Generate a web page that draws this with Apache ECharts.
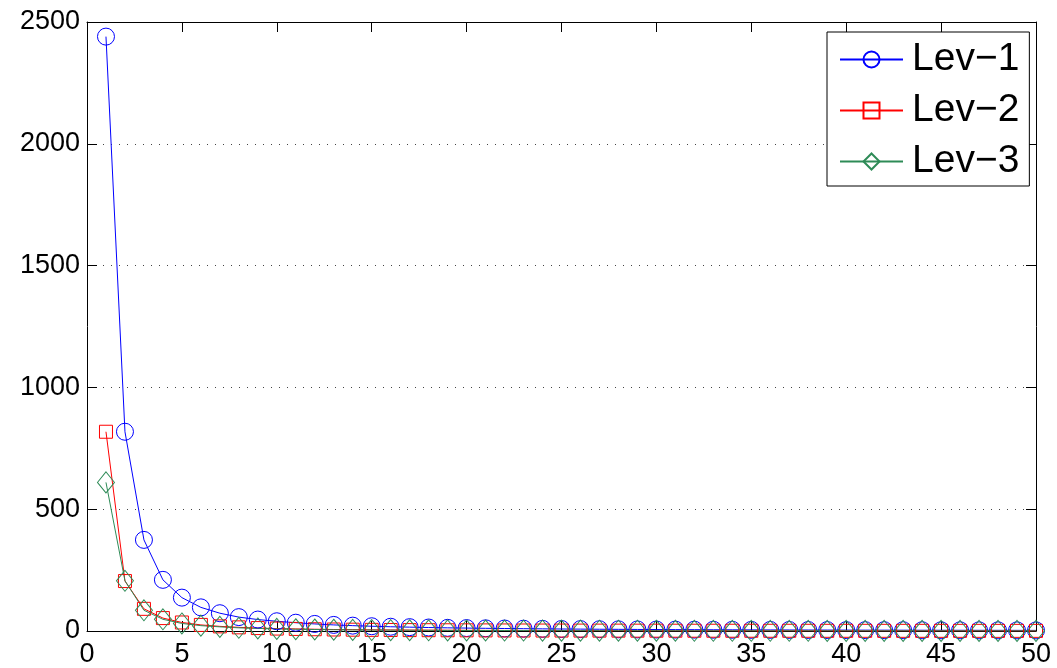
<!DOCTYPE html>
<html>
<head>
<meta charset="utf-8">
<script src="https://cdn.jsdelivr.net/npm/echarts@6/dist/echarts.min.js"></script>
<style>
  html, body { margin: 0; padding: 0; background: #fff; }
  #chart { width: 1057px; height: 668px; }
</style>
</head>
<body>
<div id="chart"></div>
<script>
// Iteration index 1..50
const iterations = Array.from({ length: 50 }, (_, i) => i + 1);

const seriesNames = ['Lev\u22121', 'Lev\u22122', 'Lev\u22123'];

const lev1 = [2440, 818, 374, 210, 137, 97, 73, 57, 47, 40,
              34, 29, 25, 22, 19.5, 17.5, 15.8, 14.3, 13, 12,
              11, 10.2, 9.5, 8.8, 8.2, 7.7, 7.2, 6.8, 6.4, 6.0,
              5.7, 5.4, 5.1, 4.9, 4.6, 4.4, 4.2, 4.0, 3.8, 3.7,
              3.5, 3.4, 3.3, 3.1, 3.0, 2.9, 2.8, 2.7, 2.6, 2.5];

const lev2 = [818, 205, 91, 53, 35, 25, 19, 15, 12, 10,
              8.5, 7.2, 6.2, 5.4, 4.7, 4.2, 3.7, 3.3, 3.0, 2.7,
              2.5, 2.3, 2.1, 1.9, 1.8, 1.7, 1.6, 1.5, 1.4, 1.3,
              1.2, 1.15, 1.1, 1.05, 1.0, 0.95, 0.9, 0.85, 0.8, 0.77,
              0.74, 0.71, 0.68, 0.65, 0.62, 0.6, 0.58, 0.56, 0.54, 0.52];

const lev3 = [610, 206, 85, 48, 31, 22, 17, 13, 10.5, 8.6,
              7.2, 6.1, 5.2, 4.5, 3.9, 3.5, 3.1, 2.8, 2.5, 2.3,
              2.1, 1.9, 1.75, 1.6, 1.5, 1.4, 1.3, 1.2, 1.12, 1.05,
              0.99, 0.93, 0.88, 0.83, 0.79, 0.75, 0.71, 0.68, 0.65, 0.62,
              0.59, 0.57, 0.55, 0.53, 0.51, 0.49, 0.47, 0.45, 0.44, 0.42];

const xTicks = { min: 0, max: 50, interval: 5 };
const yTicks = { min: 0, max: 2500, interval: 500 };

const FONT = "'Liberation Sans', Arial, Helvetica, sans-serif";

function pairs(values) {
  return iterations.map((x, i) => [x, values[i]]);
}

function frameAxis(position, ticks, withLabels, withGrid) {
  return {
    type: 'value',
    position: position,
    min: ticks.min,
    max: ticks.max,
    interval: ticks.interval,
    axisLine: { show: true, onZero: false, lineStyle: { color: '#000', width: 1 } },
    axisTick: { show: true, inside: true, length: 10, lineStyle: { color: '#000', width: 1 } },
    axisLabel: {
      show: withLabels,
      color: '#000',
      fontSize: 27,
      fontFamily: FONT,
      margin: position === 'left' ? 7 : 10,
      formatter: (v) => String(v)
    },
    splitLine: {
      show: withGrid,
      lineStyle: { color: '#444', width: 1, type: [1, 7] }
    }
  };
}

function lineSeries(name, values, color, symbol, size) {
  return {
    name: name,
    type: 'line',
    data: pairs(values),
    color: color,
    symbol: symbol,
    symbolSize: size,
    showAllSymbol: true,
    lineStyle: { color: color, width: 1 },
    itemStyle: { color: 'rgba(0,0,0,0)', borderColor: color, borderWidth: 1 },
    emphasis: { disabled: true },
    animation: false
  };
}

const chart = echarts.init(document.getElementById('chart'), null, { renderer: 'canvas' });

chart.setOption({
  backgroundColor: '#fff',
  animation: false,
  grid: { left: 87, right: 21, top: 22, bottom: 35, containLabel: false },
  xAxis: [
    frameAxis('bottom', xTicks, true, false),
    frameAxis('top', xTicks, false, false)
  ],
  yAxis: [
    frameAxis('left', yTicks, true, true),
    frameAxis('right', yTicks, false, false)
  ],
  legend: {
    show: true,
    orient: 'vertical',
    left: 827,
    top: 32,
    padding: [8, 10, 5, 12],
    itemWidth: 63,
    itemHeight: 20,
    itemGap: 12,
    backgroundColor: '#fff',
    borderColor: '#000',
    borderWidth: 1,
    borderRadius: 0,
    textStyle: {
      color: '#000',
      fontSize: 39,
      lineHeight: 20,
      fontFamily: FONT,
      padding: [0, 0, 0, 4]
    },
    data: seriesNames
  },
  series: [
    lineSeries(seriesNames[0], lev1, '#0000ff', 'circle', 17),
    lineSeries(seriesNames[1], lev2, '#ff0000', 'rect', 13),
    lineSeries(seriesNames[2], lev3, '#2e8b57', 'diamond', [17, 21])
  ]
});
</script>
</body>
</html>
